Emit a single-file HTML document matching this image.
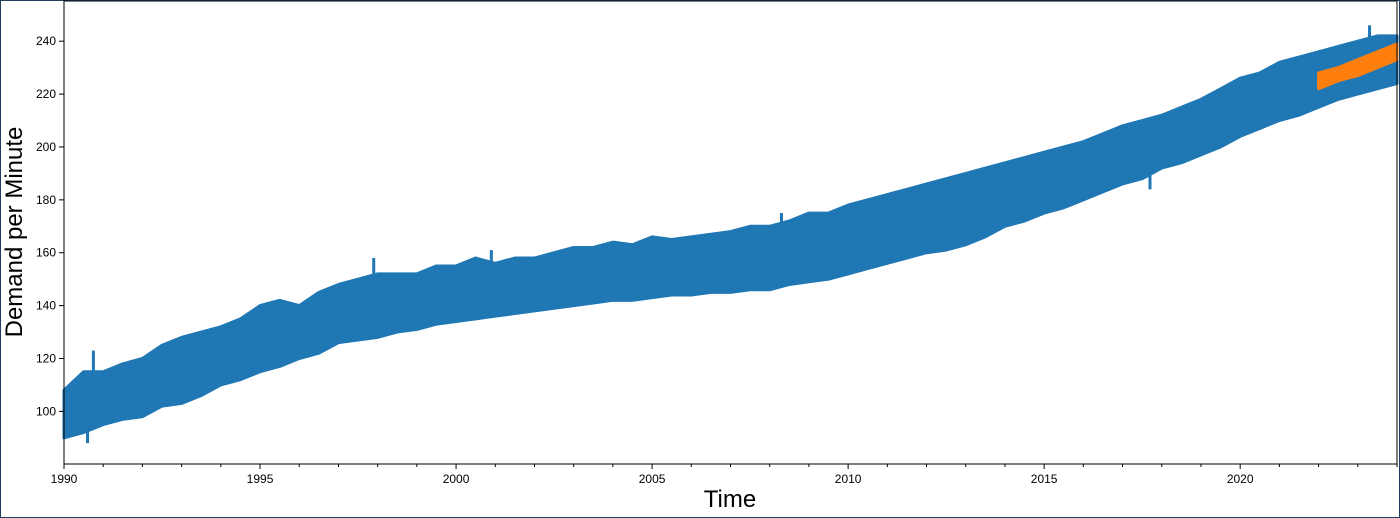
<!DOCTYPE html>
<html><head><meta charset="utf-8"><style>
body{margin:0;background:#fff;width:1400px;height:518px;overflow:hidden;font-family:"Liberation Sans","DejaVu Sans",sans-serif}
svg{display:block}
</style></head><body>
<svg id="chart" width="1400" height="518" viewBox="0 0 1400 518" xmlns="http://www.w3.org/2000/svg">
<rect x="0.5" y="0.5" width="1399" height="517" fill="#fff" stroke="#1f3f5f" stroke-width="1"/>
<g id="plot"></g>
<g id="axes"></g>
<text x="730" y="507" font-size="24" text-anchor="middle" fill="#000">Time</text>
<text transform="translate(22,232) rotate(-90)" font-size="24" text-anchor="middle" fill="#000">Demand per Minute</text>
</svg>
<script>
const years=[1990,1990.5,1991,1991.5,1992,1992.5,1993,1993.5,1994,1994.5,1995,1995.5,1996,1996.5,1997,1997.5,1998,1998.5,1999,1999.5,2000,2000.5,2001,2001.5,2002,2002.5,2003,2003.5,2004,2004.5,2005,2005.5,2006,2006.5,2007,2007.5,2008,2008.5,2009,2009.5,2010,2010.5,2011,2011.5,2012,2012.5,2013,2013.5,2014,2014.5,2015,2015.5,2016,2016.5,2017,2017.5,2018,2018.5,2019,2019.5,2020,2020.5,2021,2021.5,2022,2022.5,2023,2023.5,2024];
const lows=[90,92,95,97,98,102,103,106,110,112,115,117,120,122,126,127,128,130,131,133,134,135,136,137,138,139,140,141,142,142,143,144,144,145,145,146,146,148,149,150,152,154,156,158,160,161,163,166,170,172,175,177,180,183,186,188,192,194,197,200,204,207,210,212,215,218,220,222,224];
const highs=[108,115,115,118,120,125,128,130,132,135,140,142,140,145,148,150,152,152,152,155,155,158,156,158,158,160,162,162,164,163,166,165,166,167,168,170,170,172,175,175,178,180,182,184,186,188,190,192,194,196,198,200,202,205,208,210,212,215,218,222,226,228,232,234,236,238,240,242,242];
const fcYears=[2022,2022.5,2023,2023.5,2024];
const fcLows=[222,225,227,230,233];
const fcHighs=[228,230,233,236,239];
const spikeYears=[1990.6,1990.75,1997.9,2000.9,2008.3,2012.4,2017.7,2023.3];
const spikeVals=[88,123,158,161,175,188,184,246];
const xTicks=[1990,1995,2000,2005,2010,2015,2020];
const yTicks=[100,120,140,160,180,200,220,240];

const L=64,R=1397,T=1,B=464;
const x=v=>L+(v-1990)/(2024-1990)*(R-L);
const y=v=>B-(v-80.1)/(255.2-80.1)*(B-T);
const NS="http://www.w3.org/2000/svg";
const plot=document.getElementById('plot'),axes=document.getElementById('axes');
function mk(t,a,p){const e=document.createElementNS(NS,t);for(const k in a)e.setAttribute(k,a[k]);p.appendChild(e);return e;}

let pts=years.map((v,i)=>x(v)+','+y(highs[i]));
for(let i=years.length-1;i>=0;i--)pts.push(x(years[i])+','+y(lows[i]));
const band=mk('polygon',{points:pts.join(' '),fill:'#1f77b4',stroke:'#1f77b4','stroke-width':3,'stroke-linejoin':'round'},plot);



spikeYears.forEach((v,i)=>{
  const idx=years.findIndex(yy=>yy>=v);const mid=(lows[idx]+highs[idx])/2;
  const s=mk('line',{x1:x(v),x2:x(v),y1:y(mid),y2:y(spikeVals[i]),stroke:'#1f77b4','stroke-width':3},plot);
  
  
});

let fp=fcYears.map((v,i)=>x(v)+','+y(fcHighs[i]));
for(let i=fcYears.length-1;i>=0;i--)fp.push(x(fcYears[i])+','+y(fcLows[i]));
const fc=mk('polygon',{points:fp.join(' '),fill:'#ff7f0e',stroke:'#ff7f0e','stroke-width':3,'stroke-linejoin':'round'},plot);



mk('rect',{x:L,y:T,width:R-L,height:B-T,fill:'none',stroke:'#000','stroke-width':1},axes);
for(let yr=1990;yr<=2024;yr++){
  const major=xTicks.includes(yr);
  mk('line',{x1:x(yr),x2:x(yr),y1:B,y2:B+(major?5:3),stroke:'#000','stroke-width':1},axes);
}
xTicks.forEach(v=>{
  const t=mk('text',{x:x(v),y:B+19,'font-size':12,'text-anchor':'middle',fill:'#000'},axes);
  t.textContent=v;
  
  
});
yTicks.forEach(v=>{
  mk('line',{x1:L-5,x2:L,y1:y(v),y2:y(v),stroke:'#000','stroke-width':1},axes);
  const t=mk('text',{x:L-8,y:y(v)+4,'font-size':12,'text-anchor':'end',fill:'#000'},axes);
  t.textContent=v;
  
  
});
</script>
</body></html>
